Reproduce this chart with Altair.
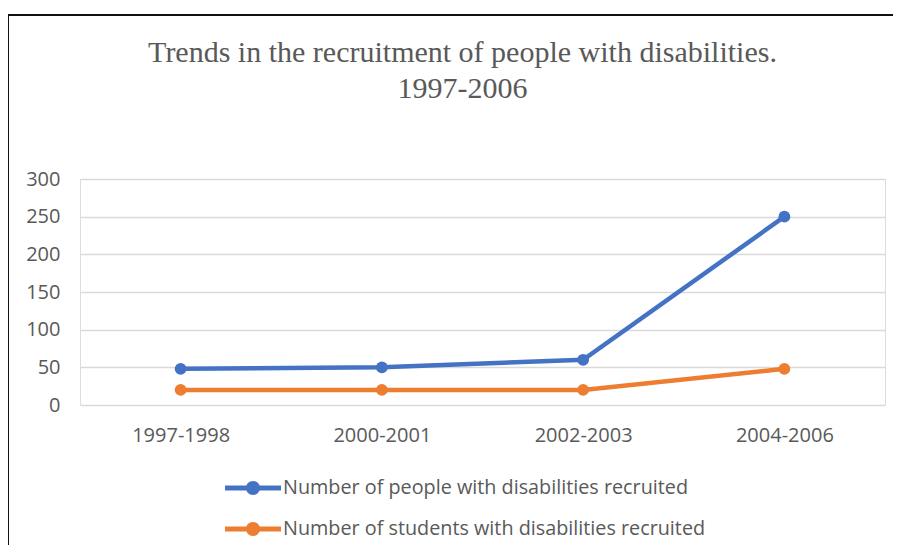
import altair as alt
import pandas as pd

periods = ["1997-1998", "2000-2001", "2002-2003", "2004-2006"]
series_people = "Number of people with disabilities recruited"
series_students = "Number of students with disabilities recruited"
people_values = [48, 50, 60, 250]
student_values = [20, 20, 20, 48]
colors = ["#4472C4", "#ED7D31"]

rows = []
for p, v in zip(periods, people_values):
    rows.append({"Period": p, "Series": series_people, "Value": v})
for p, v in zip(periods, student_values):
    rows.append({"Period": p, "Series": series_students, "Value": v})
df = pd.DataFrame(rows)

FONT = "Open Sans"
GREY = "#595959"

legend_path = ("M-1,-0.085L1,-0.085L1,0.085L-1,0.085Z "
               "M-0.25,0A0.25,0.25,0,1,1,0.25,0A0.25,0.25,0,1,1,-0.25,0Z")

legend = alt.Legend(
    title=None, orient="none", legendX=145, legendY=281, direction="vertical",
    symbolType=legend_path, symbolSize=3136, symbolStrokeWidth=0,
    symbolOpacity=1, labelFont=FONT, labelFontSize=19.8, labelColor=GREY,
    labelOffset=2, rowPadding=3, labelLimit=600,
)

color = alt.Color("Series:N", scale=alt.Scale(domain=[series_people, series_students], range=colors), legend=legend)

x = alt.X("Period:N", sort=periods, title=None,
          scale=alt.Scale(type="point", padding=0.5),
          axis=alt.Axis(labelAngle=0, labelFont=FONT, labelFontSize=20, labelColor=GREY,
                        domain=False, ticks=False, grid=False, labelPadding=20))
y = alt.Y("Value:Q", title=None, scale=alt.Scale(domain=[0, 300], nice=False),
          axis=alt.Axis(values=[0, 50, 100, 150, 200, 250, 300], labelFont=FONT, labelFontSize=20,
                        labelColor=GREY, domain=False, ticks=False, gridColor="#D9D9D9",
                        gridWidth=1.5, labelPadding=20))

base = alt.Chart(df)
lines = base.mark_line(strokeWidth=4.5).encode(x=x, y=y, color=color)
points = base.mark_point(filled=True, shape="circle", size=140, opacity=1).encode(x=x, y=y, color=color)

border_data = alt.Data(values=[{"k": 1}])
top_border = alt.Chart(border_data).mark_rule(color="#111", strokeWidth=2).encode(
    x=alt.value(-72), x2=alt.value(830), y=alt.value(-164))
left_border = alt.Chart(border_data).mark_rule(color="#111", strokeWidth=2).encode(
    x=alt.value(-72), y=alt.value(-164), y2=alt.value(380))

chart = alt.layer(top_border, left_border, lines, points).properties(
    width=805, height=226,
    title=alt.Title(["Trends in the recruitment of people with disabilities.", "1997-2006"],
                    font="Liberation Serif", fontSize=30, fontWeight="normal", color=GREY,
                    anchor="middle", dx=-20, offset=-90, lineHeight=36),
    autosize=alt.AutoSizeParams(type="none"),
    padding={"left": 72, "top": 171, "right": 8, "bottom": 140},
).configure_view(stroke=None).configure(background="white")

chart.save("out.html", embed_options={"renderer": "svg", "actions": False})
